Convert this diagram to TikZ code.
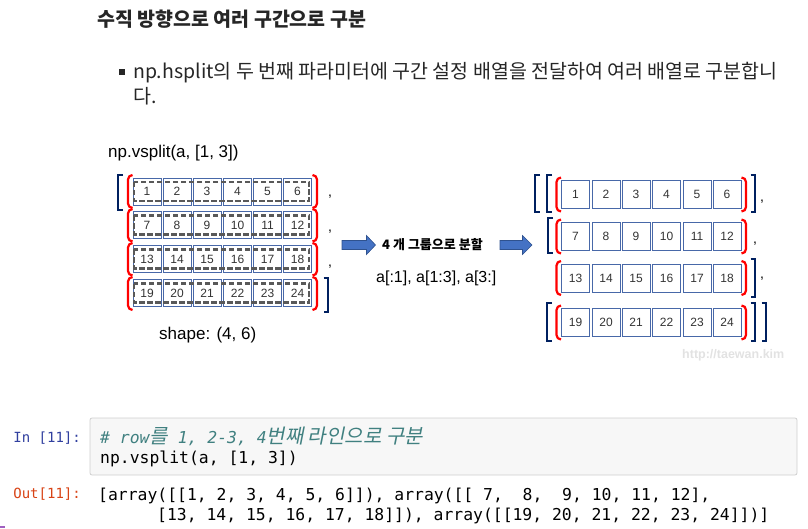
\documentclass[tikz,border=0pt]{standalone}
\usepackage{fontspec}
\setmainfont{Liberation Sans}
\setmonofont{DejaVu Sans Mono}
\newfontfamily\krfont{Noto Sans CJK KR}
\newfontfamily\krslant{Noto Sans CJK KR}[FakeSlant=0.2]
\definecolor{cellblue}{RGB}{72,104,168}
\definecolor{bracketnavy}{RGB}{0,32,96}
\definecolor{parenred}{RGB}{255,0,0}
\definecolor{dashgray}{RGB}{89,89,89}
\definecolor{arrowblue}{RGB}{68,114,196}
\definecolor{arrowedge}{RGB}{47,82,143}
\definecolor{cellbg}{RGB}{247,247,247}
\definecolor{cellframe}{RGB}{207,207,207}
\definecolor{promptin}{RGB}{48,63,159}
\definecolor{promptout}{RGB}{216,67,21}
\definecolor{commentteal}{RGB}{64,128,128}
\definecolor{wmgray}{RGB}{226,226,226}
\definecolor{markpurple}{RGB}{160,96,192}

\begin{document}
\begin{tikzpicture}[x=1pt,y=-1pt,
  cell/.style={draw=cellblue,line width=0.8pt,minimum width=28pt,minimum height=27pt,inner sep=0pt,font=\fontsize{12}{12}\selectfont,text=black!80},
  rcell/.style={cell,minimum height=28pt},
  dashbox/.style={draw=dashgray,line width=2.2pt,dash pattern=on 5.5pt off 2.5pt},
  paren/.style={draw=parenred,line width=2.2pt,rounded corners=4.5pt},
  brk/.style={draw=bracketnavy,line width=2.8pt},
  txt/.style={anchor=base west,inner sep=0pt},
  comma/.style={anchor=base west,inner sep=0pt,font=\fontsize{14}{14}\selectfont},
  blockarrow/.style={fill=arrowblue,draw=arrowedge,line width=0.6pt},
  code/.style={anchor=base west,inner sep=0pt,font=\ttfamily\fontsize{16.4}{16.4}\selectfont},
  prompt/.style={anchor=base east,inner sep=0pt,font=\ttfamily\fontsize{14}{14}\selectfont}]
  \useasboundingbox (0,0) rectangle (808,529);

  \node[txt,font=\krfont\bfseries\fontsize{19.5}{19.5}\selectfont,text=black!85] (title) at (97,27) {수직 방향으로 여러 구간으로 구분};
  \node[fill=black!85,minimum size=5.5pt,inner sep=0pt] (bul) at (122,72) {};
  \node[txt,font=\krfont\fontsize{19.5}{19.5}\selectfont,text=black!85] (desc1) at (133,79) {np.hsplit의 두 번째 파라미터에 구간 설정 배열을 전달하여 여러 배열로 구분합니};
  \node[txt,font=\krfont\fontsize{19.5}{19.5}\selectfont,text=black!85] (desc2) at (133,104) {다.};

  \node[txt,font=\fontsize{17}{17}\selectfont] (call) at (108,157.5) {np.vsplit(a, [1, 3])};
  \node[txt,font=\fontsize{17}{17}\selectfont] (shape) at (159,339) {shape: (4, 6)};

  \node[cell] (a1) at (147,191.5) {1};
  \node[cell] (a2) at (177,191.5) {2};
  \node[cell] (a3) at (207,191.5) {3};
  \node[cell] (a4) at (237.5,191.5) {4};
  \node[cell] (a5) at (267.5,191.5) {5};
  \node[cell] (a6) at (297.5,191.5) {6};
  \node[cell] (a7) at (147,225) {7};
  \node[cell] (a8) at (177,225) {8};
  \node[cell] (a9) at (207,225) {9};
  \node[cell] (a10) at (237.5,225) {10};
  \node[cell] (a11) at (267.5,225) {11};
  \node[cell] (a12) at (297.5,225) {12};
  \node[cell] (a13) at (147,259) {13};
  \node[cell] (a14) at (177,259) {14};
  \node[cell] (a15) at (207,259) {15};
  \node[cell] (a16) at (237.5,259) {16};
  \node[cell] (a17) at (267.5,259) {17};
  \node[cell] (a18) at (297.5,259) {18};
  \node[cell] (a19) at (147,293) {19};
  \node[cell] (a20) at (177,293) {20};
  \node[cell] (a21) at (207,293) {21};
  \node[cell] (a22) at (237.5,293) {22};
  \node[cell] (a23) at (267.5,293) {23};
  \node[cell] (a24) at (297.5,293) {24};

  \draw[dashbox] (134,182) rectangle (309,201);
  \draw[dashbox] (134,215.5) rectangle (309,234.5);
  \draw[dashbox] (134,249.5) rectangle (309,268.5);
  \draw[dashbox] (134,283.5) rectangle (309,302.5);

  \draw[paren] (132.5,175) -- (128,175) -- (128,208) -- (132.5,208);
  \draw[paren] (132.5,209) -- (128,209) -- (128,241.5) -- (132.5,241.5);
  \draw[paren] (132.5,243) -- (128,243) -- (128,275.5) -- (132.5,275.5);
  \draw[paren] (132.5,277) -- (128,277) -- (128,310) -- (132.5,310);
  \draw[paren] (312.5,175) -- (317,175) -- (317,208) -- (312.5,208);
  \draw[paren] (312.5,209) -- (317,209) -- (317,241.5) -- (312.5,241.5);
  \draw[paren] (312.5,243) -- (317,243) -- (317,275.5) -- (312.5,275.5);
  \draw[paren] (312.5,277) -- (317,277) -- (317,310) -- (312.5,310);

  \draw[brk] (123,175) -- (118,175) -- (118,210) -- (123,210);
  \draw[brk] (323.5,278) -- (328,278) -- (328,312) -- (323.5,312);
  \node[comma] (c1) at (328,197) {,};
  \node[comma] (c2) at (328,232) {,};
  \node[comma] (c3) at (328,266) {,};

  \fill[blockarrow] (342,240.5) -- (366.5,240.5) -- (366.5,235.5) -- (375.5,245) -- (366.5,254.5) -- (366.5,249.5) -- (342,249.5) -- cycle;
  \node[txt,font=\krfont\bfseries\fontsize{13}{13}\selectfont] (split) at (382,249.5) {4 개 그룹으로 분할};
  \fill[blockarrow] (500,240.5) -- (522.5,240.5) -- (522.5,235.5) -- (532,245) -- (522.5,254.5) -- (522.5,249.5) -- (500,249.5) -- cycle;
  \node[txt,font=\fontsize{16}{16}\selectfont] (slices) at (376,283) {a[:1], a[1:3], a[3:]};

  \node[rcell] (b1) at (575.5,194.5) {1};
  \node[rcell] (b2) at (606,194.5) {2};
  \node[rcell] (b3) at (636,194.5) {3};
  \node[rcell] (b4) at (666.5,194.5) {4};
  \node[rcell] (b5) at (697,194.5) {5};
  \node[rcell] (b6) at (727,194.5) {6};
  \node[rcell] (b7) at (575.5,236.5) {7};
  \node[rcell] (b8) at (606,236.5) {8};
  \node[rcell] (b9) at (636,236.5) {9};
  \node[rcell] (b10) at (666.5,236.5) {10};
  \node[rcell] (b11) at (697,236.5) {11};
  \node[rcell] (b12) at (727,236.5) {12};
  \node[rcell] (b13) at (575.5,278) {13};
  \node[rcell] (b14) at (606,278) {14};
  \node[rcell] (b15) at (636,278) {15};
  \node[rcell] (b16) at (666.5,278) {16};
  \node[rcell] (b17) at (697,278) {17};
  \node[rcell] (b18) at (727,278) {18};
  \node[rcell] (b19) at (575.5,322.5) {19};
  \node[rcell] (b20) at (606,322.5) {20};
  \node[rcell] (b21) at (636,322.5) {21};
  \node[rcell] (b22) at (666.5,322.5) {22};
  \node[rcell] (b23) at (697,322.5) {23};
  \node[rcell] (b24) at (727,322.5) {24};

  \draw[paren] (561,177.5) -- (556.5,177.5) -- (556.5,211.5) -- (561,211.5);
  \draw[paren] (561,219.5) -- (556.5,219.5) -- (556.5,253.5) -- (561,253.5);
  \draw[paren] (561,261) -- (556.5,261) -- (556.5,295) -- (561,295);
  \draw[paren] (561,305.5) -- (556.5,305.5) -- (556.5,339.5) -- (561,339.5);
  \draw[paren] (741.5,177.5) -- (746,177.5) -- (746,211.5) -- (741.5,211.5);
  \draw[paren] (741.5,219.5) -- (746,219.5) -- (746,253.5) -- (741.5,253.5);
  \draw[paren] (741.5,261) -- (746,261) -- (746,295) -- (741.5,295);
  \draw[paren] (741.5,305.5) -- (746,305.5) -- (746,339.5) -- (741.5,339.5);

  \draw[brk] (540,175) -- (535,175) -- (535,212) -- (540,212);
  \draw[brk] (552,175) -- (547,175) -- (547,212) -- (552,212);
  \draw[brk] (750.5,175) -- (755,175) -- (755,212) -- (750.5,212);
  \draw[brk] (553,218) -- (548,218) -- (548,253) -- (553,253);
  \draw[brk] (750.5,259) -- (755,259) -- (755,297) -- (750.5,297);
  \draw[brk] (552,303) -- (547,303) -- (547,341) -- (552,341);
  \draw[brk] (750.5,303) -- (755,303) -- (755,341) -- (750.5,341);
  \draw[brk] (761.5,303) -- (766,303) -- (766,341) -- (761.5,341);
  \node[comma] (c4) at (760,202) {,};
  \node[comma] (c5) at (753,244) {,};
  \node[comma] (c6) at (760,279) {,};

  \node[txt,text=wmgray,font=\bfseries\fontsize{12.5}{12.5}\selectfont] (wm) at (682,358.5) {http://taewan.kim};

  \draw[fill=cellbg,draw=cellframe,line width=0.8pt,rounded corners=2pt] (90,418) rectangle (797,475);
  \node[prompt,text=promptin] (in) at (81,442) {In [11]:};
  \node[code,text=commentteal,font=\ttfamily\itshape\fontsize{16.4}{16.4}\selectfont] (cmt) at (100,443) {\# row{\krslant\fontsize{20}{20}\selectfont 를} 1, 2-3, 4{\krslant\fontsize{20}{20}\selectfont 번째 라인으로 구분}};
  \node[code] (src) at (100,463) {np.vsplit(a, [1, 3])};
  \node[prompt,text=promptout] (out) at (81,498) {Out[11]:};
  \node[code] (res1) at (98,500) {[array([[1, 2, 3, 4, 5, 6]]), array([[~7,~~8,~~9, 10, 11, 12],};
  \node[code] (res2) at (157,520) {[13, 14, 15, 16, 17, 18]]), array([[19, 20, 21, 22, 23, 24]])]};
  \draw[markpurple,line width=1.5pt] (0,527) -- (5,527);
\end{tikzpicture}
\end{document}
